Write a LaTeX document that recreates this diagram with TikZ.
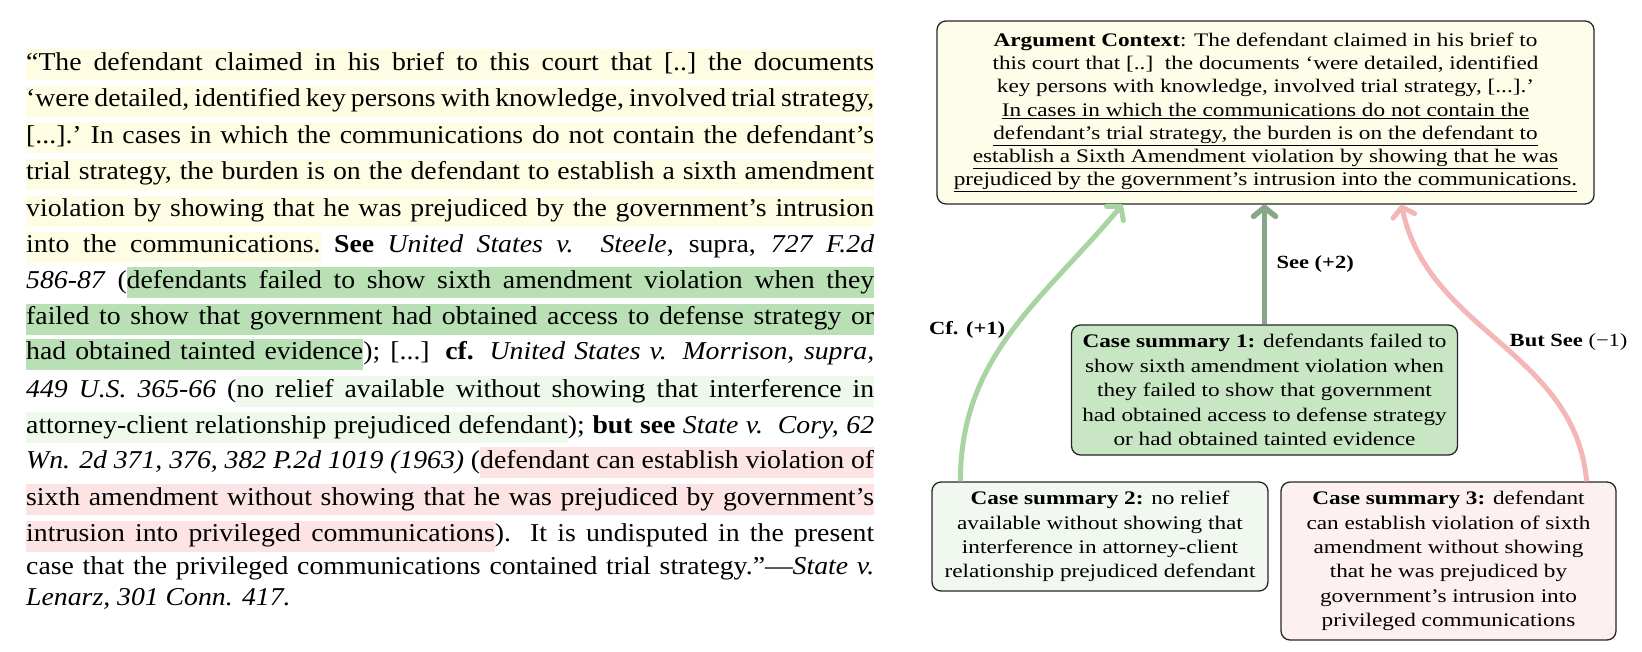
\documentclass[tikz,border=0pt]{standalone}
\usepackage{fontspec}
\setmainfont{Liberation Serif}[FakeStretch=1.08]
\newfontfamily\diagfont{Liberation Serif}[FakeStretch=1.21]
\usetikzlibrary{arrows.meta, calc}
\definecolor{ctxyellow}{RGB}{254, 253, 234}
\definecolor{hlyellow}{RGB}{254, 253, 228}
\definecolor{hlgreen}{RGB}{185, 224, 181}
\definecolor{hllight}{RGB}{238, 249, 235}
\definecolor{hlpink}{RGB}{252, 228, 228}
\definecolor{seegreen}{RGB}{134, 168, 134}
\definecolor{cfgreen}{RGB}{168, 212, 161}
\definecolor{butpink}{RGB}{244, 182, 182}
\definecolor{sumgreen}{RGB}{200, 230, 196}
\definecolor{sumlight}{RGB}{241, 248, 239}
\definecolor{sumpink}{RGB}{253, 240, 240}

% word-by-word highlighter, the gaps stay stretchable
\newcommand\hlc{}
\def\hlword#1{\setbox0\hbox{#1}\rlap{\color{\hlc}\vrule height 21pt depth 10pt width \wd0}\box0\relax}
\def\hlgap{{\color{\hlc}\leaders\hrule height 21pt depth 10pt\hskip\fontdimen2\font plus \fontdimen3\font minus \fontdimen4\font}}
\def\hlrun#1 #2\hlend{\hlword{#1}\ifx\relax#2\relax\else\hlgap\hlrun#2\hlend\fi}
\newcommand\hlt[2]{\def\hlc{#1}\hlrun#2 \hlend}
\newcommand\jline[1]{\makebox[848pt][s]{#1}}

\begin{document}
\begin{tikzpicture}[
    x=1pt, y=1pt,
    srcline/.style={anchor=base west, inner sep=0pt, font=\fontsize{25.7}{31}\selectfont},
    ctxbox/.style={rectangle, draw=black!85, line width=1.3pt, fill=ctxyellow, rounded corners=9pt, align=center, inner sep=0pt, font=\diagfont\fontsize{19.2}{23.2}\selectfont},
    casebox/.style={rectangle, draw=black!85, line width=1.3pt, rounded corners=9pt, align=center, inner sep=0pt, font=\diagfont\fontsize{19.2}{24.4}\selectfont},
    lbl/.style={font=\diagfont\fontsize{18.6}{22}\selectfont, text=black},
    cite/.style={line width=5pt, -{Straight Barb[round, length=9pt, width=22pt]}}
]
  \useasboundingbox (0,0) rectangle (1642,-652);

  % quoted passage
  \node[srcline] (l1) at (26,-70.5) {\jline{\hlt{hlyellow}{“The defendant claimed in his brief to this court that [..] the documents}}};
  \node[srcline] (l2) at (26,-107) {\jline{\hlt{hlyellow}{‘were detailed, identified key persons with knowledge, involved trial strategy,}}};
  \node[srcline] (l3) at (26,-143.5) {\jline{\hlt{hlyellow}{[...].’ In cases in which the communications do not contain the defendant’s}}};
  \node[srcline] (l4) at (26,-180) {\jline{\hlt{hlyellow}{trial strategy, the burden is on the defendant to establish a sixth amendment}}};
  \node[srcline] (l5) at (26,-216.7) {\jline{\hlt{hlyellow}{violation by showing that he was prejudiced by the government’s intrusion}}};
  \node[srcline] (l6) at (26,-253) {\jline{\hlt{hlyellow}{into the communications.} \textbf{See} \textit{United States v.\ \ Steele}, supra, \textit{727 F.2d}}};
  \node[srcline] (l7) at (26,-288.5) {\jline{\textit{586-87} (\hlt{hlgreen}{defendants failed to show sixth amendment violation when they}}};
  \node[srcline] (l8) at (26,-325) {\jline{\hlt{hlgreen}{failed to show that government had obtained access to defense strategy or}}};
  \node[srcline] (l9) at (26,-360) {\jline{\hlt{hlgreen}{had obtained tainted evidence}); [...] \textbf{cf.} \textit{United States v. Morrison, supra,}}};
  \node[srcline] (l10) at (26,-397) {\jline{\textit{449 U.S. 365-66} (\hlt{hllight}{no relief available without showing that interference in}}};
  \node[srcline] (l11) at (26,-433) {\jline{\hlt{hllight}{attorney-client relationship prejudiced defendant}); \textbf{but see} \textit{State v.\ \ Cory, 62}}};
  \node[srcline] (l12) at (26,-468.3) {\jline{\textit{Wn. 2d 371, 376, 382 P.2d 1019 (1963)} (\hlt{hlpink}{defendant can establish violation of}}};
  \node[srcline] (l13) at (26,-505) {\jline{\hlt{hlpink}{sixth amendment without showing that he was prejudiced by government’s}}};
  \node[srcline] (l14) at (26,-541.7) {\jline{\hlt{hlpink}{intrusion into privileged communications}). It is undisputed in the present}};
  \node[srcline] (l15) at (26,-574) {\jline{case that the privileged communications contained trial strategy.”—\textit{State v.}}};
  \node[srcline] (l16) at (26,-605) {\textit{Lenarz, 301 Conn. 417.}};

  % argument context
  \node[ctxbox, minimum width=657pt, minimum height=183pt] (ctx) at (1265.5,-112.5) {\textbf{Argument Context}: The defendant claimed in his brief to\\
    this court that [..]\ \ the documents ‘were detailed, identified\\
    key persons with knowledge, involved trial strategy, [...].’\\
    \underline{In cases in which the communications do not contain the}\\
    \underline{defendant’s trial strategy, the burden is on the defendant to}\\
    \underline{establish a Sixth Amendment violation by showing that he was}\\
    \underline{prejudiced by the government’s intrusion into the communications.}};

  % case summaries
  \node[casebox, fill=sumgreen, minimum width=386pt, minimum height=130pt] (sum1) at (1264.5,-390) {\textbf{Case summary 1:} defendants failed to\\
    show sixth amendment violation when\\
    they failed to show that government\\
    had obtained access to defense strategy\\
    or had obtained tainted evidence};
  \node[casebox, fill=sumlight, minimum width=336pt, minimum height=109pt] (sum2) at (1100,-536.5) {\textbf{Case summary 2:} no relief\\
    available without showing that\\
    interference in attorney-client\\
    relationship prejudiced defendant};
  \node[casebox, fill=sumpink, minimum width=335pt, minimum height=158pt] (sum3) at (1448.5,-561) {\textbf{Case summary 3:} defendant\\
    can establish violation of sixth\\
    amendment without showing\\
    that he was prejudiced by\\
    government’s intrusion into\\
    privileged communications};

  % citation signals
  \coordinate (cfstart) at ($(sum2.north west)+(29,0)$);
  \coordinate (cfend) at ($(ctx.south west)+(186,0)$);
  \coordinate (bsstart) at ($(sum3.north east)+(-30,0)$);
  \coordinate (bsend) at ($(ctx.south west)+(465,0)$);

  \draw[cite, seegreen, line width=5.5pt] (sum1.north) -- (sum1.north |- ctx.south)
    node[lbl, midway, right=6pt] {\textbf{See (+2)}};
  \draw[cite, cfgreen] (cfstart) to[out=90, in=-130]
    node[lbl, pos=0.51, left=2pt] {\textbf{Cf. (+1)}} (cfend);
  \draw[cite, butpink] (bsstart) to[out=95, in=-78]
    node[lbl, pos=0.5, right=4pt] {\textbf{But See} (−1)} (bsend);
\end{tikzpicture}
\end{document}
